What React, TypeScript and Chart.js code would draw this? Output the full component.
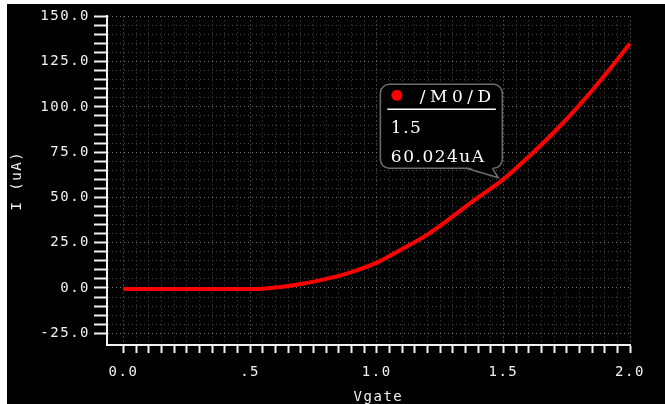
import React, { useEffect, useRef } from 'react';
import { Chart, registerables } from 'chart.js';

Chart.register(...registerables);

// ---- data ----
const VGATE = [0, 0.1, 0.2, 0.3, 0.4, 0.5, 0.55, 0.6, 0.65, 0.7, 0.8, 0.9, 1.0, 1.1, 1.2, 1.3, 1.4, 1.5, 1.6, 1.7, 1.8, 1.9, 2.0];
const CURRENT_UA = [-0.6, -0.6, -0.6, -0.6, -0.6, -0.55, -0.4, 0.2, 1.1, 2.2, 5.0, 8.8, 14.0, 21.5, 29.5, 39.5, 50.0, 60.0, 72.5, 86.0, 101.0, 117.5, 135.0];

const X_MAJOR_VALUES = [0, 0.5, 1.0, 1.5, 2.0];
const X_MAJOR_LABELS = ['0.0', '.5', '1.0', '1.5', '2.0'];
const X_MINOR_STEP = 0.05;
const Y_MAJOR_VALUES = [-25, 0, 25, 50, 75, 100, 125, 150];
const Y_MAJOR_LABELS = ['-25.0', '0.0', '25.0', '50.0', '75.0', '100.0', '125.0', '150.0'];
const Y_MINOR_STEP = 5;

const X_TITLE = 'Vgate';
const Y_TITLE = 'I (uA)';

const MARKER_NAME = '/M0/D';
const MARKER_X = 1.5;
const MARKER_Y = 60.024;
const MARKER_UNIT = 'uA';

// axis bounds (axes are drawn offset from the data area)
const X_MIN = -0.065;
const X_MAX = 2.0;
const Y_MIN = -31.5;
const Y_MAX = 150;

const AXIS_COLOR = '#f2f2f2';
const GRID_MINOR = '#494949';
const GRID_MAJOR = '#767676';
const MONO = '"DejaVu Sans Mono", monospace';
const SERIF = '"DejaVu Serif", serif';

function buildTicks(majors: number[], step: number) {
  const lo = majors[0];
  const hi = majors[majors.length - 1];
  const n = Math.round((hi - lo) / step);
  const out: { value: number }[] = [];
  for (let i = 0; i <= n; i++) out.push({ value: +(lo + i * step).toFixed(4) });
  return out;
}

function majorIndex(majors: number[], v: number) {
  return majors.findIndex((m) => Math.abs(m - v) < 1e-6);
}

const spacingPlugin = {
  id: 'spacing',
  beforeDraw(chart: any) {
    chart.ctx.letterSpacing = '1.5px';
  },
};

const markerPlugin = {
  id: 'marker',
  afterDatasetsDraw(chart: any) {
    const ctx = chart.ctx as CanvasRenderingContext2D;
    const px = chart.scales.x.getPixelForValue(MARKER_X);
    const py = chart.scales.y.getPixelForValue(MARKER_Y);
    ctx.save();
    const bx = px - 123;
    const by = py - 95;
    const bw = 122;
    const bh = 84;
    ctx.beginPath();
    (ctx as any).roundRect(bx, by, bw, bh, 9);
    ctx.fillStyle = '#000';
    ctx.fill();
    ctx.strokeStyle = '#6e6e6e';
    ctx.lineWidth = 1.5;
    ctx.stroke();
    // tail
    const tb = by + bh;
    ctx.beginPath();
    ctx.moveTo(px - 37, tb - 1.5);
    ctx.lineTo(px - 5, py - 1.5);
    ctx.lineTo(px - 11, tb - 1.5);
    ctx.closePath();
    ctx.fillStyle = '#000';
    ctx.fill();
    ctx.beginPath();
    ctx.moveTo(px - 37, tb);
    ctx.lineTo(px - 5, py - 1.5);
    ctx.lineTo(px - 11, tb);
    ctx.stroke();
    // red dot
    ctx.beginPath();
    ctx.arc(px - 106.5, py - 84, 5.5, 0, Math.PI * 2);
    ctx.fillStyle = '#ff0000';
    ctx.fill();
    // texts
    ctx.fillStyle = '#ffffff';
    ctx.textAlign = 'left';
    ctx.textBaseline = 'alphabetic';
    ctx.font = `17px ${SERIF}`;
    (ctx as any).letterSpacing = '4.5px';
    ctx.fillText(MARKER_NAME, px - 83.5, py - 77.5);
    (ctx as any).letterSpacing = '1.5px';
    ctx.fillText(String(MARKER_X), px - 112.5, py - 46.5);
    ctx.fillText(MARKER_Y.toFixed(3) + MARKER_UNIT, px - 112.5, py - 17.5);
    // underline
    ctx.beginPath();
    ctx.moveTo(px - 116, py - 70);
    ctx.lineTo(px - 7.5, py - 70);
    ctx.strokeStyle = '#ffffff';
    ctx.lineWidth = 1.5;
    ctx.stroke();
    ctx.restore();
  },
};

export default function App() {
  const ref = useRef<HTMLCanvasElement>(null);

  useEffect(() => {
    if (!ref.current) return;
    const chart = new Chart(ref.current, {
      type: 'line',
      data: {
        datasets: [
          {
            data: VGATE.map((v, i) => ({ x: v, y: CURRENT_UA[i] })),
            borderColor: '#ff0000',
            borderWidth: 4,
            pointRadius: 0,
            cubicInterpolationMode: 'monotone',
            borderCapStyle: 'butt',
            fill: false,
            clip: 4,
          } as any,
        ],
      },
      options: {
        animation: false,
        responsive: false,
        devicePixelRatio: 1,
        layout: { padding: { top: 9, right: 35, left: 0, bottom: 0 } },
        plugins: { legend: { display: false }, tooltip: { enabled: false } },
        scales: {
          x: {
            type: 'linear',
            min: X_MIN,
            max: X_MAX,
            afterBuildTicks: (s: any) => {
              s.ticks = buildTicks(X_MAJOR_VALUES, X_MINOR_STEP);
            },
            afterFit: (s: any) => {
              s.height = 59;
            },
            grid: {
              color: (c: any) => (majorIndex(X_MAJOR_VALUES, c.tick?.value) >= 0 ? GRID_MAJOR : GRID_MINOR),
              lineWidth: 1,
              drawTicks: true,
              tickLength: 8,
              tickColor: AXIS_COLOR,
              tickWidth: 2,
              tickBorderDash: [],
            },
            border: { display: true, color: AXIS_COLOR, width: 2, dash: [1, 3] },
            ticks: {
              autoSkip: false,
              maxRotation: 0,
              padding: 11,
              color: AXIS_COLOR,
              font: { family: MONO, size: 14 },
              callback: (v: any) => {
                const i = majorIndex(X_MAJOR_VALUES, Number(v));
                return i >= 0 ? X_MAJOR_LABELS[i] : '';
              },
            },
            title: {
              display: true,
              text: '  ' + X_TITLE,
              color: AXIS_COLOR,
              font: { family: MONO, size: 14, lineHeight: 1 },
              padding: { top: 0, bottom: 0 },
            },
          },
          y: {
            type: 'linear',
            min: Y_MIN,
            max: Y_MAX,
            afterBuildTicks: (s: any) => {
              s.ticks = buildTicks(Y_MAJOR_VALUES, Y_MINOR_STEP);
            },
            afterFit: (s: any) => {
              s.width = 100;
            },
            grid: {
              color: (c: any) => (majorIndex(Y_MAJOR_VALUES, c.tick?.value) >= 0 ? GRID_MAJOR : GRID_MINOR),
              lineWidth: 1,
              drawTicks: true,
              tickLength: 13,
              tickColor: AXIS_COLOR,
              tickWidth: 2,
              tickBorderDash: [],
            },
            border: { display: true, color: AXIS_COLOR, width: 2, dash: [1, 3] },
            ticks: {
              autoSkip: false,
              padding: 4,
              color: AXIS_COLOR,
              font: { family: MONO, size: 14 },
              callback: (v: any) => {
                const i = majorIndex(Y_MAJOR_VALUES, Number(v));
                return i >= 0 ? Y_MAJOR_LABELS[i] : '';
              },
            },
            title: {
              display: true,
              text: Y_TITLE,
              color: AXIS_COLOR,
              font: { family: MONO, size: 14, lineHeight: 1 },
              padding: { top: 3.5, bottom: 0 },
            },
          },
        },
      } as any,
      plugins: [spacingPlugin, markerPlugin],
    });
    return () => chart.destroy();
  }, []);

  return (
    <div
      style={{
        position: 'fixed',
        left: 0,
        top: 0,
        width: 665,
        height: 404,
        background: '#ffffff',
        overflow: 'hidden',
      }}
    >
      <canvas
        ref={ref}
        width={658}
        height={400}
        style={{ position: 'absolute', left: 7, top: 4, width: 658, height: 400, background: '#000000' }}
      />
    </div>
  );
}
